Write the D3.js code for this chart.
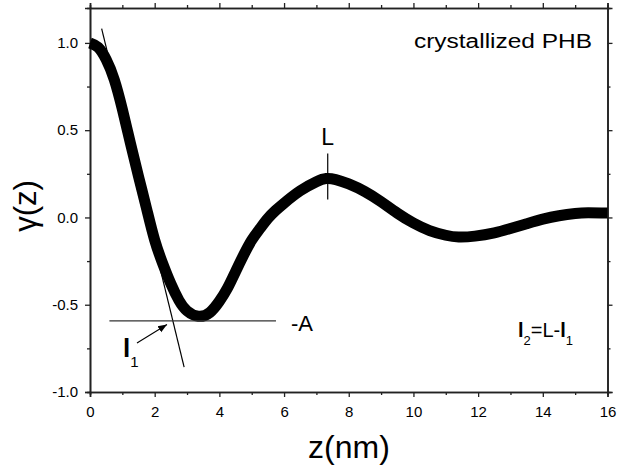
<!DOCTYPE html>
<html>
<head>
<meta charset="utf-8">
<script src="https://d3js.org/d3.v7.min.js"></script>
<style>
  body { margin: 0; background: #fff; }
  svg { display: block; font-family: Arial, "Liberation Sans", sans-serif; }
  .axis path, .axis line { stroke: #222; }
</style>
</head>
<body>
<svg width="618" height="467"></svg>
<script>
// correlation function of crystallized PHB
var zVals = [0, 0.25, 0.5, 0.75, 1.0, 1.25, 1.5, 1.75, 2.0, 2.25, 2.5, 2.75, 3.0, 3.35, 3.7, 4.0,
  4.25, 4.5, 4.75, 5.0, 5.25, 5.5, 5.75, 6.0, 6.5, 7.0, 7.3, 7.6, 8.0, 8.5, 9.0, 9.5, 10.0,
  10.5, 11.0, 11.4, 11.9, 12.5, 13.0, 13.5, 14.0, 14.5, 15.0, 15.4, 16.0];
var gammaVals = [1.0, 0.975, 0.905, 0.79, 0.62, 0.425, 0.235, 0.05, -0.13, -0.265, -0.38, -0.475, -0.535, -0.566, -0.545, -0.48,
  -0.405, -0.31, -0.215, -0.13, -0.065, -0.005, 0.042, 0.082, 0.153, 0.205, 0.223, 0.217, 0.192, 0.148, 0.09, 0.025, -0.032,
  -0.075, -0.102, -0.112, -0.107, -0.088, -0.063, -0.036, -0.01, 0.01, 0.023, 0.027, 0.025];

var xMajor = [0, 2, 4, 6, 8, 10, 12, 14, 16];
var xMinor = [1, 3, 5, 7, 9, 11, 13, 15];
var yMajor = [-1.0, -0.5, 0.0, 0.5, 1.0];
var yMinor = [-0.75, -0.25, 0.25, 0.75];

// annotation values (data units)
var tangentZ = [0.36, 2.91];
var tangentG = [1.082, -0.857];
var minusALevel = -0.593;
var minusARange = [0.6, 5.75];
var peakZ = 7.35;
var peakTick = [0.103, 0.366];

var svg = d3.select("svg");
var x = d3.scaleLinear().domain([0, 16]).range([90, 607.5]);
var y = d3.scaleLinear().domain([-1, 1.2]).range([392, 8]);

var fmtY = function(d) { return d3.format(".1f")(d).replace("\u2212", "-"); };

function axisGroup(axis, tr) {
  var g = svg.append("g").attr("class", "axis").attr("transform", tr).call(axis);
  g.select(".domain").attr("stroke-width", 1.6);
  g.selectAll(".tick line").attr("stroke-width", 1.3);
  return g;
}

// minor ticks first (no labels)
axisGroup(d3.axisBottom(x).tickValues(xMinor).tickSize(3).tickFormat(""), "translate(0,392)");
axisGroup(d3.axisTop(x).tickValues(xMinor).tickSize(3).tickFormat(""), "translate(0,8)");
axisGroup(d3.axisLeft(y).tickValues(yMinor).tickSize(3).tickFormat(""), "translate(90,0)");
axisGroup(d3.axisRight(y).tickValues(yMinor).tickSize(3).tickFormat(""), "translate(607.5,0)");

var bottom = axisGroup(d3.axisBottom(x).tickValues(xMajor).tickSize(5).tickPadding(9).tickFormat(d3.format("d")), "translate(0,392)");
axisGroup(d3.axisTop(x).tickValues(xMajor).tickSize(5).tickFormat(""), "translate(0,8)");
var left = axisGroup(d3.axisLeft(y).tickValues(yMajor).tickSize(5).tickPadding(7).tickFormat(fmtY), "translate(90,0)");
axisGroup(d3.axisRight(y).tickValues(yMajor).tickSize(5).tickFormat(""), "translate(607.5,0)");

bottom.selectAll("text").attr("font-size", 15).attr("font-family", "Arial, 'Liberation Sans', sans-serif").attr("fill", "#000");
left.selectAll("text").attr("font-size", 15).attr("font-family", "Arial, 'Liberation Sans', sans-serif").attr("fill", "#000");

// axis titles
svg.append("text").attr("x", 349).attr("y", 458).attr("text-anchor", "middle")
  .attr("font-size", 32).text("z(nm)");
svg.append("text").attr("transform", "translate(36,206) rotate(-90)").attr("text-anchor", "middle")
  .attr("font-size", 31).text("\u03b3(z)");

// the curve
var pts = zVals.map(function(z, i) { return [z, gammaVals[i]]; });
var line = d3.line().x(function(d) { return x(d[0]); }).y(function(d) { return y(d[1]); })
  .curve(d3.curveNatural);
svg.append("path").datum(pts).attr("d", line).attr("fill", "none")
  .attr("stroke", "#000").attr("stroke-width", 11);

// tangent line
svg.append("line").attr("x1", x(tangentZ[0])).attr("y1", y(tangentG[0]))
  .attr("x2", x(tangentZ[1])).attr("y2", y(tangentG[1]))
  .attr("stroke", "#000").attr("stroke-width", 1.2);

// -A level
svg.append("line").attr("x1", x(minusARange[0])).attr("x2", x(minusARange[1]))
  .attr("y1", y(minusALevel)).attr("y2", y(minusALevel))
  .attr("stroke", "#333").attr("stroke-width", 1.3);
svg.append("text").attr("x", 291).attr("y", 331).attr("font-size", 22).text("-A");

// L marker
svg.append("line").attr("x1", x(peakZ)).attr("x2", x(peakZ))
  .attr("y1", y(peakTick[0])).attr("y2", y(peakTick[1]))
  .attr("stroke", "#000").attr("stroke-width", 1.2);
svg.append("text").attr("x", x(peakZ)).attr("y", 145).attr("text-anchor", "middle")
  .attr("font-size", 23).text("L");

// l1 label with arrow
svg.append("defs").append("marker").attr("id", "arr").attr("viewBox", "0 0 10 10")
  .attr("refX", 10).attr("refY", 5).attr("markerWidth", 9).attr("markerHeight", 9)
  .attr("markerUnits", "userSpaceOnUse").attr("orient", "auto")
  .append("path").attr("d", "M0,1 L10,5 L0,9 Z").attr("fill", "#000");
svg.append("line").attr("x1", 137).attr("y1", 343).attr("x2", 167).attr("y2", 324.5)
  .attr("stroke", "#000").attr("stroke-width", 1.1).attr("marker-end", "url(#arr)");
var l1 = svg.append("text").attr("x", 123).attr("y", 357).attr("font-size", 26);
l1.append("tspan").attr("font-weight", "bold").text("l");
l1.append("tspan").attr("font-size", 15).attr("dy", 10).text("1");

// l2 = L - l1
var l2 = svg.append("text").attr("x", 518).attr("y", 337).attr("font-size", 20);
l2.append("tspan").attr("font-weight", "bold").text("l");
l2.append("tspan").attr("font-size", 13).attr("dy", 8).text("2");
l2.append("tspan").attr("dy", -8).text("=L-");
l2.append("tspan").attr("font-weight", "bold").text("l");
l2.append("tspan").attr("font-size", 13).attr("dy", 8).text("1");

svg.append("text").attr("x", 592).attr("y", 48).attr("text-anchor", "end")
  .attr("font-size", 20).attr("textLength", 178).attr("lengthAdjust", "spacingAndGlyphs")
  .text("crystallized PHB");
</script>
</body>
</html>
